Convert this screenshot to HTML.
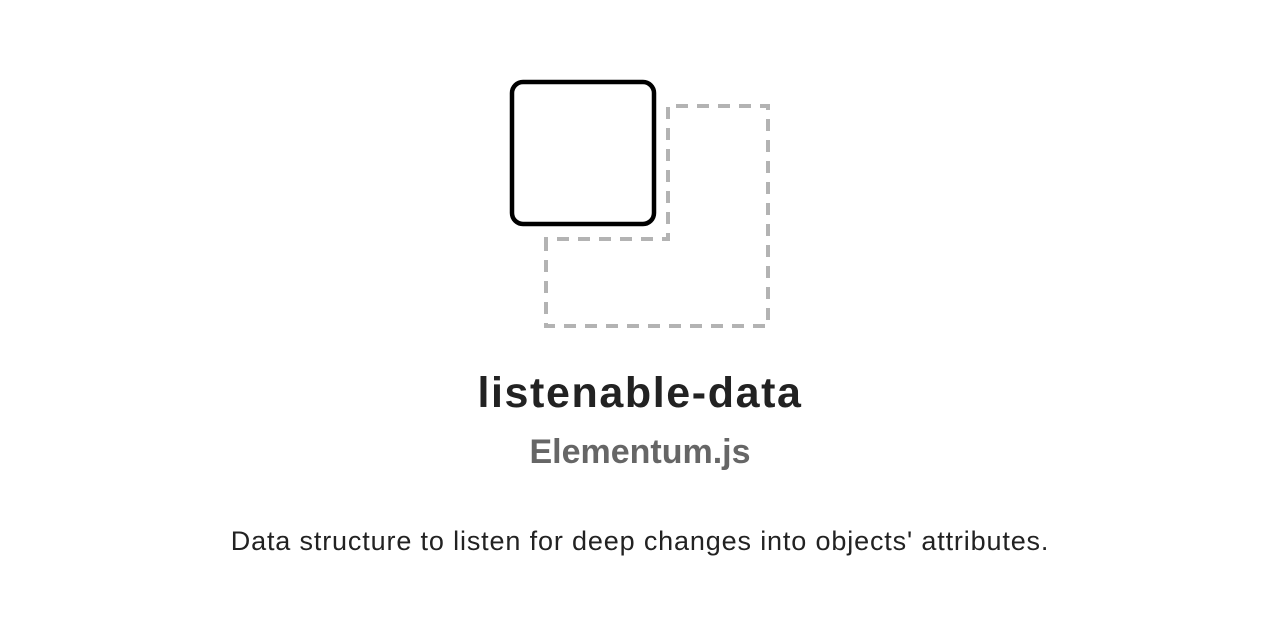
<!DOCTYPE html>
<html><head><meta charset="utf-8"><style>
html,body{margin:0;padding:0;background:#fff;width:1280px;height:640px;overflow:hidden;font-family:"Liberation Sans",sans-serif}
.t{position:absolute;left:0;width:1280px;text-align:center;white-space:nowrap}
</style></head><body>
<svg width="1280" height="640" style="position:absolute;left:0;top:0">
<path d="M546 239 L546 326 L768 326 L768 106 L668 106 L668 239 Z" fill="none" stroke="#b3b3b3" stroke-width="4" stroke-dasharray="12 9"/>
<rect x="512" y="82" width="142" height="142" rx="11" fill="#fff" stroke="#000" stroke-width="4.5"/>
</svg>
<div class="t" style="top:369px;font-size:43px;font-weight:bold;color:#222;letter-spacing:1.6px">listenable-data</div>
<div class="t" style="top:433px;font-size:34px;font-weight:bold;color:#666">Elementum.js</div>
<div class="t" style="top:526px;font-size:27px;color:#222;letter-spacing:0.85px">Data structure to listen for deep changes into objects' attributes.</div>
</body></html>
